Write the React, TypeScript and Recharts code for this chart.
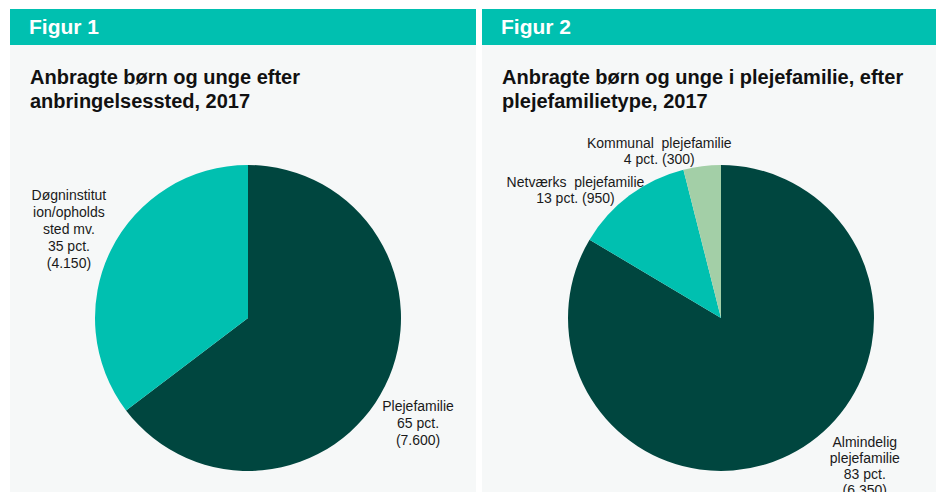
import { PieChart, Pie, Cell } from "recharts";

// Figur 1: anbragte efter anbringelsessted
const fig1Names = ["Plejefamilie", "Døgninstitut\nion/opholds\nsted mv."];
const fig1Values = [7600, 4150];
const fig1Pct = [65, 35];

// Figur 2: i plejefamilie efter type
const fig2Names = ["Almindelig\nplejefamilie", "Netværks  plejefamilie", "Kommunal  plejefamilie"];
const fig2Values = [6350, 950, 300];
const fig2Pct = [83, 13, 4];

const TEAL = "#00c0b0";
const DARK = "#00463f";
const LIGHT = "#a3cfa7";
const BG = "#f6f8f8";
const FONT = "'Liberation Sans', Arial, sans-serif";

// small nudges so the labels sit where the original put them
const fig1Shift = [[-9, 16], [0, 0]];
const fig2Shift = [[45, -26], [-26, 32], [-37, 31]];

function fmtNum(v: number) {
  return String(v).replace(/\B(?=(\d{3})+(?!\d))/g, ".");
}

function makeLabel(names: string[], pct: number[], values: number[], shift: number[][], lh: number) {
  return (p: any) => {
    const RAD = Math.PI / 180;
    const i = p.index;
    const r = p.outerRadius * 1.307;
    const x = p.cx + r * Math.cos(-p.midAngle * RAD) + shift[i][0];
    const y = p.cy + r * Math.sin(-p.midAngle * RAD) + shift[i][1];
    const name = names[i];
    const oneLine = !name.includes("\n") && name.length > 14;
    const lines = name.split("\n");
    if (oneLine) lines.push(`${pct[i]} pct. (${fmtNum(values[i])})`);
    else lines.push(`${pct[i]} pct.`, `(${fmtNum(values[i])})`);
    const y0 = y - ((lines.length - 1) * lh) / 2 + 5;
    return (
      <text key={"l" + i} x={x} y={y0} textAnchor="middle" fontSize={14} fill="#1a1a1a" fontFamily={FONT} style={{ whiteSpace: "pre" }}>
        {lines.map((t, k) => (
          <tspan key={k} x={x} dy={k === 0 ? 0 : lh}>{t}</tspan>
        ))}
      </text>
    );
  };
}

function Panel({ left, width, fig, title, children }: any) {
  return (
    <div style={{ position: "absolute", left, top: 9, width, height: 483, background: BG }}>
      <div style={{ height: 36, background: TEAL, color: "#fff", fontFamily: FONT, fontWeight: "bold", fontSize: 21, lineHeight: "36px", paddingLeft: 19 }}>
        {fig}
      </div>
      <div style={{ position: "absolute", left: 20, top: 56, fontFamily: FONT, fontWeight: "bold", fontSize: 20, lineHeight: "24px", color: "#111", whiteSpace: "pre" }}>
        {title}
      </div>
      <div style={{ position: "absolute", left: 0, top: 36 }}>{children}</div>
    </div>
  );
}

export default function App() {
  const d1 = fig1Names.map((n, i) => ({ name: n, value: fig1Values[i] }));
  const d2 = fig2Names.map((n, i) => ({ name: n, value: fig2Values[i] }));
  const c1 = [DARK, TEAL];
  const c2 = [DARK, TEAL, LIGHT];
  return (
    <div style={{ position: "absolute", left: 0, top: 0, width: 936, height: 492, overflow: "hidden", background: "#fff" }}>
      <Panel left={10} width={466} fig="Figur 1" title={"Anbragte børn og unge efter\nanbringelsessted, 2017"}>
        <PieChart width={466} height={447} margin={{ top: 0, right: 0, bottom: 0, left: 0 }}>
          <Pie data={d1} dataKey="value" cx={238} cy={273} outerRadius={153} startAngle={90} endAngle={-270}
            stroke="none" labelLine={false} label={makeLabel(fig1Names, fig1Pct, fig1Values, fig1Shift, 17)} isAnimationActive={false}>
            {d1.map((_, i) => <Cell key={i} fill={c1[i]} />)}
          </Pie>
        </PieChart>
      </Panel>
      <Panel left={482} width={454} fig="Figur 2" title={"Anbragte børn og unge i plejefamilie, efter\nplejefamilietype, 2017"}>
        <PieChart width={454} height={447} margin={{ top: 0, right: 0, bottom: 0, left: 0 }}>
          <Pie data={d2} dataKey="value" cx={239} cy={273} outerRadius={153} startAngle={90} endAngle={-270}
            stroke="none" labelLine={false} label={makeLabel(fig2Names, fig2Pct, fig2Values, fig2Shift, 16)} isAnimationActive={false}>
            {d2.map((_, i) => <Cell key={i} fill={c2[i]} />)}
          </Pie>
        </PieChart>
      </Panel>
    </div>
  );
}
